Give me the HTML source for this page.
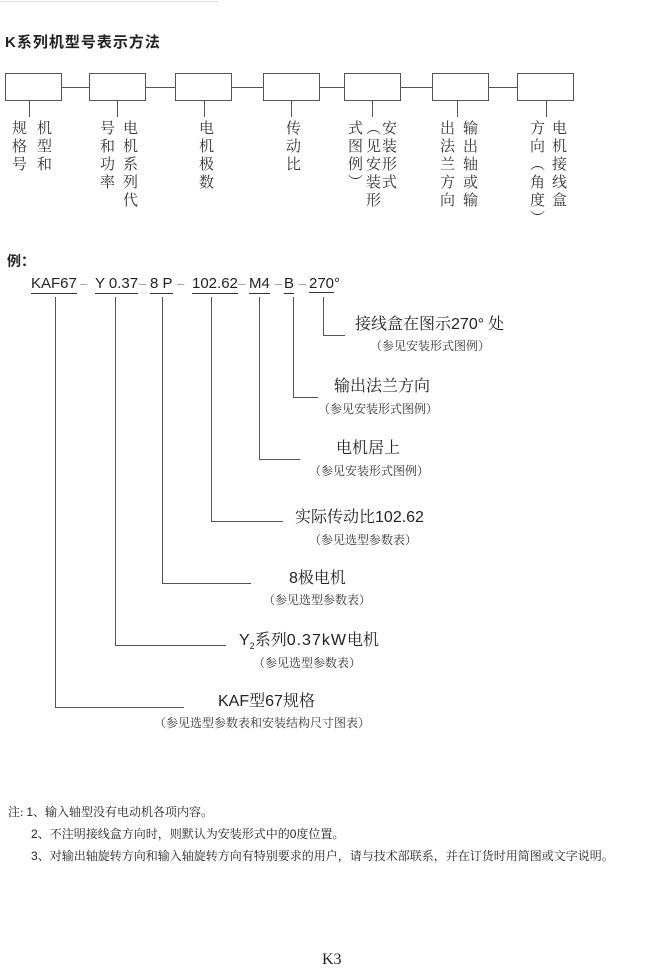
<!DOCTYPE html>
<html><head><meta charset="utf-8"><style>
body{margin:0;width:650px;height:970px;background:#fff;position:relative;overflow:hidden;color:#222;font-family:"Liberation Serif","Noto Serif CJK SC",serif}
.a{position:absolute;white-space:nowrap}
.b{position:absolute;border:1px solid #555;background:#fff;width:55px;height:26px;top:73px}
.h{position:absolute;height:1px;background:#555}
.v{position:absolute;width:1px;background:#555}
.col{position:absolute;top:120px;writing-mode:vertical-rl;font-size:15px;line-height:16px;letter-spacing:3px;font-family:"Liberation Serif","Noto Serif CJK SC",serif;color:#333;white-space:nowrap}
.s{font-family:"Liberation Sans","Noto Sans CJK SC",sans-serif}
.m{font-size:16px;line-height:20px}
.sub{font-size:12px;line-height:14px;color:#333}
.code{position:absolute;top:275px;font-family:"Liberation Sans",sans-serif;font-size:15px;line-height:18px}
.d{position:absolute;top:275px;font-family:"Liberation Sans",sans-serif;font-size:13px;line-height:18px;color:#999}
.u{border-bottom:1px solid #333}
.n{font-size:12px;line-height:14px}
</style></head><body>
<div class="h" style="left:0;top:1px;width:218px;background:#ddd"></div>
<div class="a s" style="left:5px;top:31px;font-size:15px;font-weight:bold;letter-spacing:1px">K系列机型号表示方法</div>

<div class="h" style="left:30px;top:87px;width:520px"></div>
<div class="b" style="left:5px"></div><div class="b" style="left:89px"></div><div class="b" style="left:175px"></div><div class="b" style="left:263px"></div><div class="b" style="left:344px"></div><div class="b" style="left:432px"></div><div class="b" style="left:517px"></div>
<div class="v" style="left:29px;top:100px;height:17px"></div>
<div class="v" style="left:117px;top:100px;height:17px"></div>
<div class="v" style="left:204px;top:100px;height:17px"></div>
<div class="v" style="left:291px;top:100px;height:17px"></div>
<div class="v" style="left:372px;top:100px;height:17px"></div>
<div class="v" style="left:457px;top:100px;height:17px"></div>
<div class="v" style="left:546px;top:100px;height:17px"></div>

<div class="col" style="left:10px">规格号</div>
<div class="col" style="left:35px">机型和</div>
<div class="col" style="left:98px">号和功率</div>
<div class="col" style="left:121px">电机系列代</div>
<div class="col" style="left:197px">电机极数</div>
<div class="col" style="left:284px">传动比</div>
<div class="col" style="left:346px">式图例）</div>
<div class="col" style="left:364px">（见安装形</div>
<div class="col" style="left:380px">安装形式</div>
<div class="col" style="left:438px">出法兰方向</div>
<div class="col" style="left:461px">输出轴或输</div>
<div class="col" style="left:528px">方向（角度）</div>
<div class="col" style="left:550px">电机接线盒</div>

<div class="a s" style="left:7px;top:251px;font-size:14px;font-weight:bold">例：</div>
<div class="code u" style="left:31px">KAF67</div>
<div class="d" style="left:80px">–</div>
<div class="code u" style="left:95px">Y 0.37</div>
<div class="d" style="left:139px">–</div>
<div class="code u" style="left:150px">8 P</div>
<div class="d" style="left:177px">–</div>
<div class="code u" style="left:192px">102.62</div>
<div class="d" style="left:238px">–</div>
<div class="code u" style="left:249px">M4</div>
<div class="d" style="left:275px">–</div>
<div class="code u" style="left:284px">B</div>
<div class="d" style="left:299px">–</div>
<div class="code" style="left:309px"><span class="u">270</span>°</div>

<div class="v" style="left:323px;top:297px;height:38px"></div><div class="h" style="left:323px;top:335px;width:22px"></div>
<div class="v" style="left:293px;top:297px;height:100px"></div><div class="h" style="left:293px;top:397px;width:25px"></div>
<div class="v" style="left:259px;top:297px;height:162px"></div><div class="h" style="left:259px;top:459px;width:41px"></div>
<div class="v" style="left:211px;top:297px;height:224px"></div><div class="h" style="left:211px;top:521px;width:72px"></div>
<div class="v" style="left:162px;top:297px;height:286px"></div><div class="h" style="left:162px;top:583px;width:89px"></div>
<div class="v" style="left:115px;top:297px;height:348px"></div><div class="h" style="left:115px;top:645px;width:111px"></div>
<div class="v" style="left:55px;top:297px;height:410px"></div><div class="h" style="left:55px;top:707px;width:129px"></div>

<div class="a m" style="left:355px;top:315px">接线盒在图示<span class="s">270°</span> 处</div>
<div class="a sub" style="left:370px;top:339px">（参见安装形式图例）</div>
<div class="a m" style="left:334px;top:377px">输出法兰方向</div>
<div class="a sub" style="left:318px;top:402px">（参见安装形式图例）</div>
<div class="a m" style="left:336px;top:439px">电机居上</div>
<div class="a sub" style="left:309px;top:464px">（参见安装形式图例）</div>
<div class="a m" style="left:295px;top:508px">实际传动比<span class="s">102.62</span></div>
<div class="a sub" style="left:309px;top:533px">（参见选型参数表）</div>
<div class="a m" style="left:289px;top:569px"><span class="s">8</span>极电机</div>
<div class="a sub" style="left:263px;top:593px">（参见选型参数表）</div>
<div class="a m" style="left:239px;top:631px"><span class="s">Y<sub style="font-size:9px">2</sub></span>系列<span class="s" style="letter-spacing:1px">0.37kW</span>电机</div>
<div class="a sub" style="left:253px;top:656px">（参见选型参数表）</div>
<div class="a m" style="left:218px;top:692px"><span class="s">KAF</span>型<span class="s">67</span>规格</div>
<div class="a sub" style="left:154px;top:716px">（参见选型参数表和安装结构尺寸图表）</div>

<div class="a n" style="left:8px;top:805px">注: <span class="s">1</span>、输入轴型没有电动机各项内容。</div>
<div class="a n" style="left:31px;top:827px"><span class="s">2</span>、不注明接线盒方向时，则默认为安装形式中的<span class="s">0</span>度位置。</div>
<div class="a n" style="left:31px;top:849px"><span class="s">3</span>、对输出轴旋转方向和输入轴旋转方向有特别要求的用户，请与技术部联系，并在订货时用简图或文字说明。</div>
<div class="a" style="left:322px;top:951px;font-size:16px">K3</div>
</body></html>
